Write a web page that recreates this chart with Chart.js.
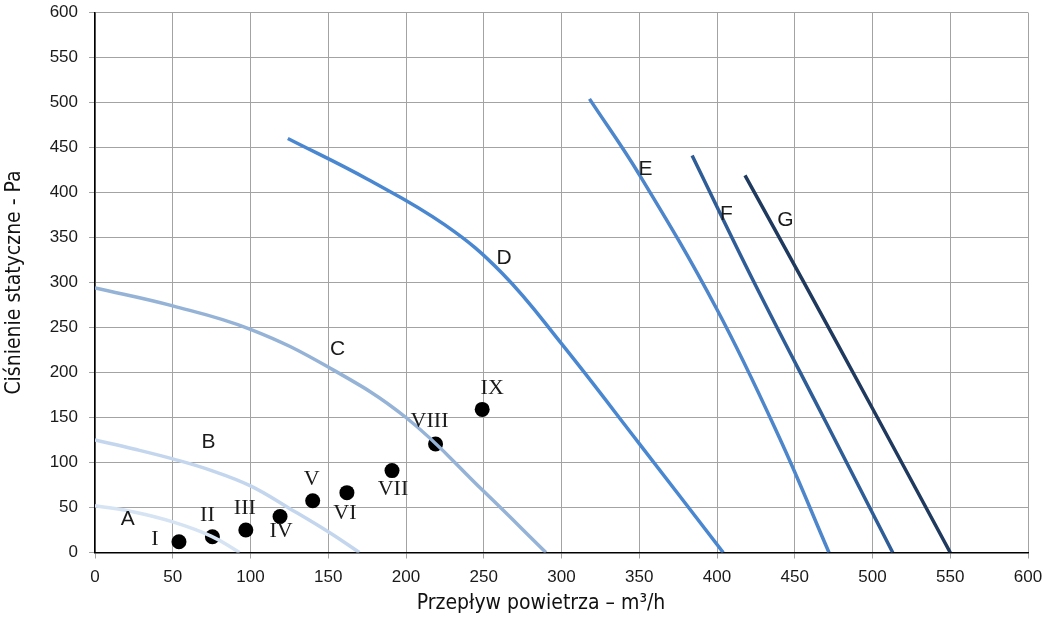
<!DOCTYPE html>
<html>
<head>
<meta charset="utf-8">
<script src="https://cdn.jsdelivr.net/npm/chart.js@4.4.1/dist/chart.umd.min.js"></script>
<style>
  body { margin: 0; background: #fff; }
  #wrap { width: 1043px; height: 619px; }
</style>
</head>
<body>
<div id="wrap"><canvas id="fanChart" width="1043" height="619"></canvas></div>
<script>
// fan curves (flow m3/h, static pressure Pa)
const curveA = [[0, 52], [25, 45], [50, 34], [75, 18], [93, 0]];
const curveB = [[0, 125], [25, 115], [50, 104], [75, 91], [100, 74], [125, 49], [150, 23], [170, 0]];
const curveC = [[0, 294], [50, 274], [100, 248], [150, 206], [200, 150], [250, 68], [290, 0]];
const curveD = [[124, 460], [175, 415], [225, 364], [262, 310], [300, 232], [350, 121], [404, 0]];
const curveE = [[318, 504], [350, 420], [400, 270], [440, 128], [472, 0]];
const curveF = [[384, 441], [423, 303], [470, 145], [513, 0]];
const curveG = [[418, 419], [455, 303], [500, 160], [550, 0]];

const curveNames = ["A", "B", "C", "D", "E", "F", "G"];
// where each curve letter sits (data coords)
const curveLabelPos = [[21, 37], [73, 122], [156, 226], [263, 327], [354, 426], [406, 376], [444, 369]];

// working points
const pointNames = ["I", "II", "III", "IV", "V", "VI", "VII", "VIII", "IX"];
const pointX = [54, 75.5, 97, 119, 140, 162, 191, 219, 249];
const pointY = [12, 17.5, 25, 40, 57.5, 66.5, 91, 120.5, 159];

const xTicks = [0, 50, 100, 150, 200, 250, 300, 350, 400, 450, 500, 550, 600];
const yTicks = [0, 50, 100, 150, 200, 250, 300, 350, 400, 450, 500, 550, 600];

const xTitle = "Przepływ powietrza – m³/h";
const yTitle = "Ciśnienie statyczne - Pa";

const curveColors = ["#d6e3f3", "#c3d6ee", "#95b3d7", "#4a87d1", "#4d86cb", "#2f5d97", "#1f3a5e"];
// pixel offsets of roman labels from their point
const pointLabelOffset = [[-24, -2], [-5, -22], [-1, -22], [1, 15], [-1, -22], [-2, 21], [1, 19], [-6, -23], [10, -21]];

const curves = [curveA, curveB, curveC, curveD, curveE, curveF, curveG];
const datasets = curves.map((c, i) => ({
  label: curveNames[i],
  data: c.map(p => ({ x: p[0], y: p[1] })),
  showLine: true,
  borderColor: curveColors[i],
  borderWidth: 3.5,
  pointRadius: 0,
  fill: false,
  tension: 0.4,
}));
datasets.push({
  label: "points",
  data: pointX.map((x, i) => ({ x: x, y: pointY[i] })),
  showLine: false,
  pointRadius: 7.5,
  pointBackgroundColor: "#000",
  pointBorderWidth: 0,
});

const narrowFont = "'Liberation Sans Narrow', 'DejaVu Sans Condensed', 'Roboto Condensed', sans-serif";
const tickFont = { family: "'Liberation Sans', Arial, sans-serif", size: 17 };

// draws curve letters, roman numerals and both axis titles
const labelPlugin = {
  id: "labels",
  afterDatasetsDraw(chart) {
    const ctx = chart.ctx;
    const xs = chart.scales.x;
    const ys = chart.scales.y;
    ctx.save();
    ctx.textAlign = "center";
    ctx.textBaseline = "middle";
    ctx.fillStyle = "#1a1a1a";
    ctx.font = "21px 'Liberation Sans', Arial, sans-serif";
    curveNames.forEach((n, i) => {
      ctx.fillText(n, xs.getPixelForValue(curveLabelPos[i][0]), ys.getPixelForValue(curveLabelPos[i][1]));
    });
    ctx.font = "22px 'Liberation Serif', 'Times New Roman', serif";
    pointNames.forEach((n, i) => {
      const px = xs.getPixelForValue(pointX[i]) + pointLabelOffset[i][0];
      const py = ys.getPixelForValue(pointY[i]) + pointLabelOffset[i][1];
      ctx.fillText(n, px, py);
    });
    ctx.font = "21px " + narrowFont;
    ctx.fillStyle = "#111";
    ctx.fillText(xTitle, 541, 604);
    ctx.translate(15, (ys.top + ys.bottom) / 2);
    ctx.rotate(-Math.PI / 2);
    ctx.fillText(yTitle, 0, 0);
    ctx.restore();
  },
};

// no automatic padding for overhanging tick labels, the layout padding decides
function noOverhang(s) {
  s.paddingTop = 0;
  s.paddingBottom = 0;
  s.paddingLeft = 0;
  s.paddingRight = 0;
}

const ctx = document.getElementById("fanChart").getContext("2d");
const fanChart = new Chart(ctx, {
  type: "scatter",
  data: { datasets: datasets },
  plugins: [labelPlugin],
  options: {
    responsive: false,
    animation: false,
    layout: { padding: { left: 0, right: 15, top: 12.5, bottom: 0 } },
    plugins: {
      legend: { display: false },
      tooltip: { enabled: false },
    },
    scales: {
      x: {
        type: "linear",
        min: 0,
        max: 600,
        afterBuildTicks: (s) => { s.ticks = xTicks.map(v => ({ value: v })); },
        afterFit: (s) => { s.height = 66.5; noOverhang(s); },
        grid: { color: "#a3a3a3", lineWidth: 1, tickLength: 6 },
        border: { color: "#000", width: 1.5 },
        ticks: { color: "#1a1a1a", font: tickFont, padding: 9, maxRotation: 0 },
      },
      y: {
        type: "linear",
        min: 0,
        max: 600,
        afterBuildTicks: (s) => { s.ticks = yTicks.map(v => ({ value: v })); },
        afterFit: (s) => { s.width = 95; noOverhang(s); },
        grid: { color: "#a3a3a3", lineWidth: 1, tickLength: 6 },
        border: { color: "#000", width: 1.5 },
        ticks: { color: "#1a1a1a", font: tickFont, padding: 11 },
      },
    },
  },
});
</script>
</body>
</html>
